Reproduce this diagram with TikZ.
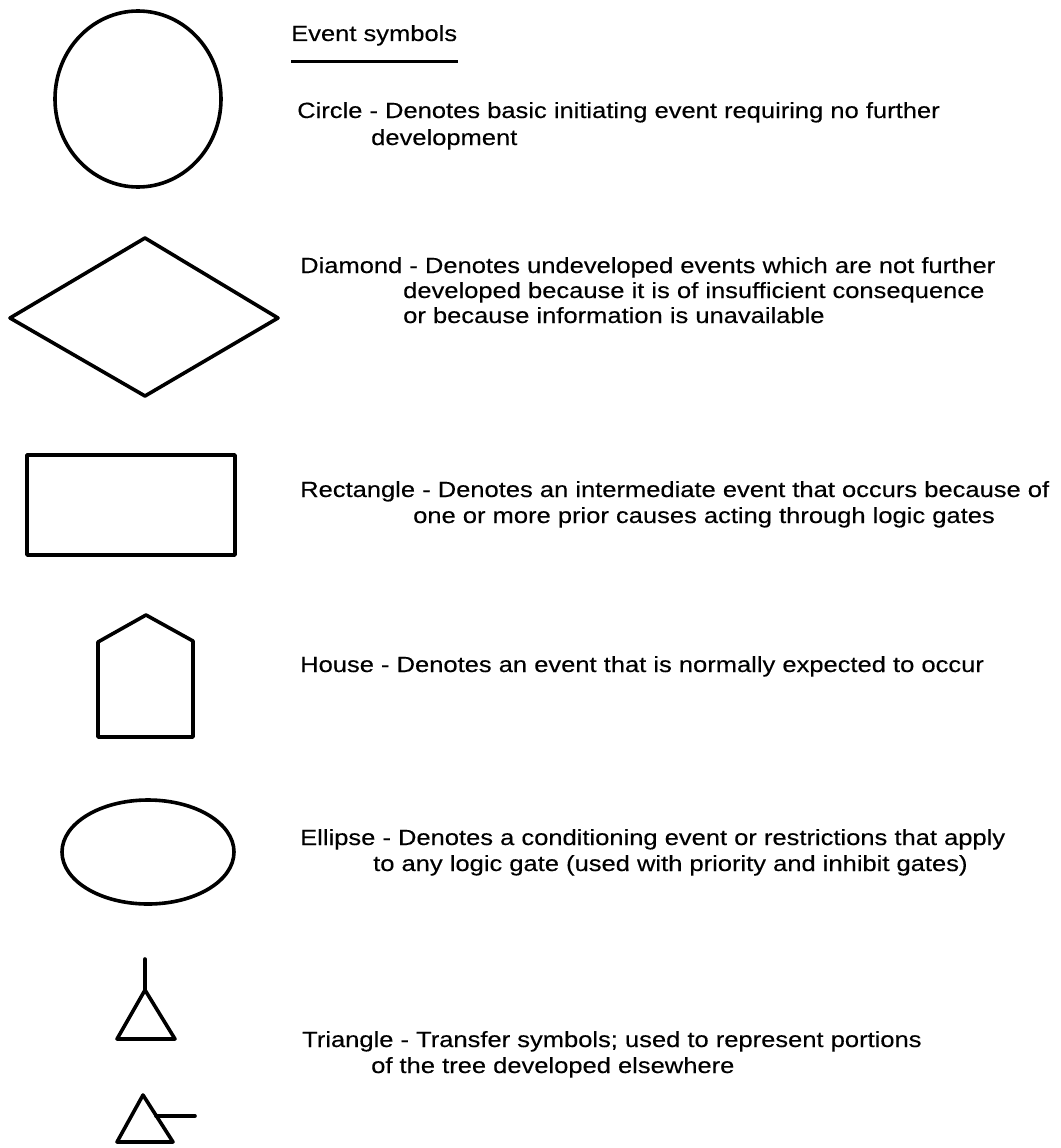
\documentclass[tikz,border=0pt]{standalone}
\usepackage{fontspec}
\setmainfont{Liberation Sans}[FakeStretch=1.16,FakeBold=0.3]
\begin{document}
\begin{tikzpicture}[x=1pt,y=-1pt,
  shp/.style={draw=black,line width=3.6pt,line join=round,line cap=round},
  lbl/.style={anchor=base west,inner sep=0pt,font=\fontsize{22}{26}\selectfont}]
\useasboundingbox (0,0) rectangle (1060,1148);
% heading
\node[lbl] (head) at (291,41) {Event symbols};
\draw[line width=3pt] (291,62) -- (458,62);
% circle
\draw[shp] (138,99) ellipse [x radius=83, y radius=88];
\node[lbl] (c1) at (297,118) {Circle - Denotes basic initiating event requiring no further};
\node[lbl] (c2) at (371,145) {development};
% diamond
\draw[shp] (145,238) -- (278,318) -- (145,396) -- (10,318) -- cycle;
\node[lbl] (d1) at (300,273) {Diamond - Denotes undeveloped events which are not further};
\node[lbl] (d2) at (403,298) {developed because it is of insufficient consequence};
\node[lbl] (d3) at (403,323) {or because information is unavailable};
% rectangle
\draw[shp] (27,455) rectangle (235,555);
\node[lbl] (r1) at (300,497) {Rectangle - Denotes an intermediate event that occurs because of};
\node[lbl] (r2) at (413,523) {one or more prior causes acting through logic gates};
% house
\draw[shp] (98,737) -- (98,642) -- (146,615) -- (193,641) -- (193,737) -- cycle;
\node[lbl] (h1) at (300,672) {House - Denotes an event that is normally expected to occur};
% ellipse
\draw[shp] (148,852) ellipse [x radius=86, y radius=52];
\node[lbl] (e1) at (300,845) {Ellipse - Denotes a conditioning event or restrictions that apply};
\node[lbl] (e2) at (373,871) {to any logic gate (used with priority and inhibit gates)};
% triangles
\draw[shp] (145,959) -- (145,990);
\draw[shp] (145,990) -- (175,1039) -- (117,1039) -- cycle;
\node[lbl] (t1) at (302,1047) {Triangle - Transfer symbols; used to represent portions};
\node[lbl] (t2) at (371,1073) {of the tree developed elsewhere};
\draw[shp] (143,1095) -- (173,1142) -- (117,1142) -- cycle;
\draw[shp] (156,1116) -- (195,1116);
\end{tikzpicture}
\end{document}
